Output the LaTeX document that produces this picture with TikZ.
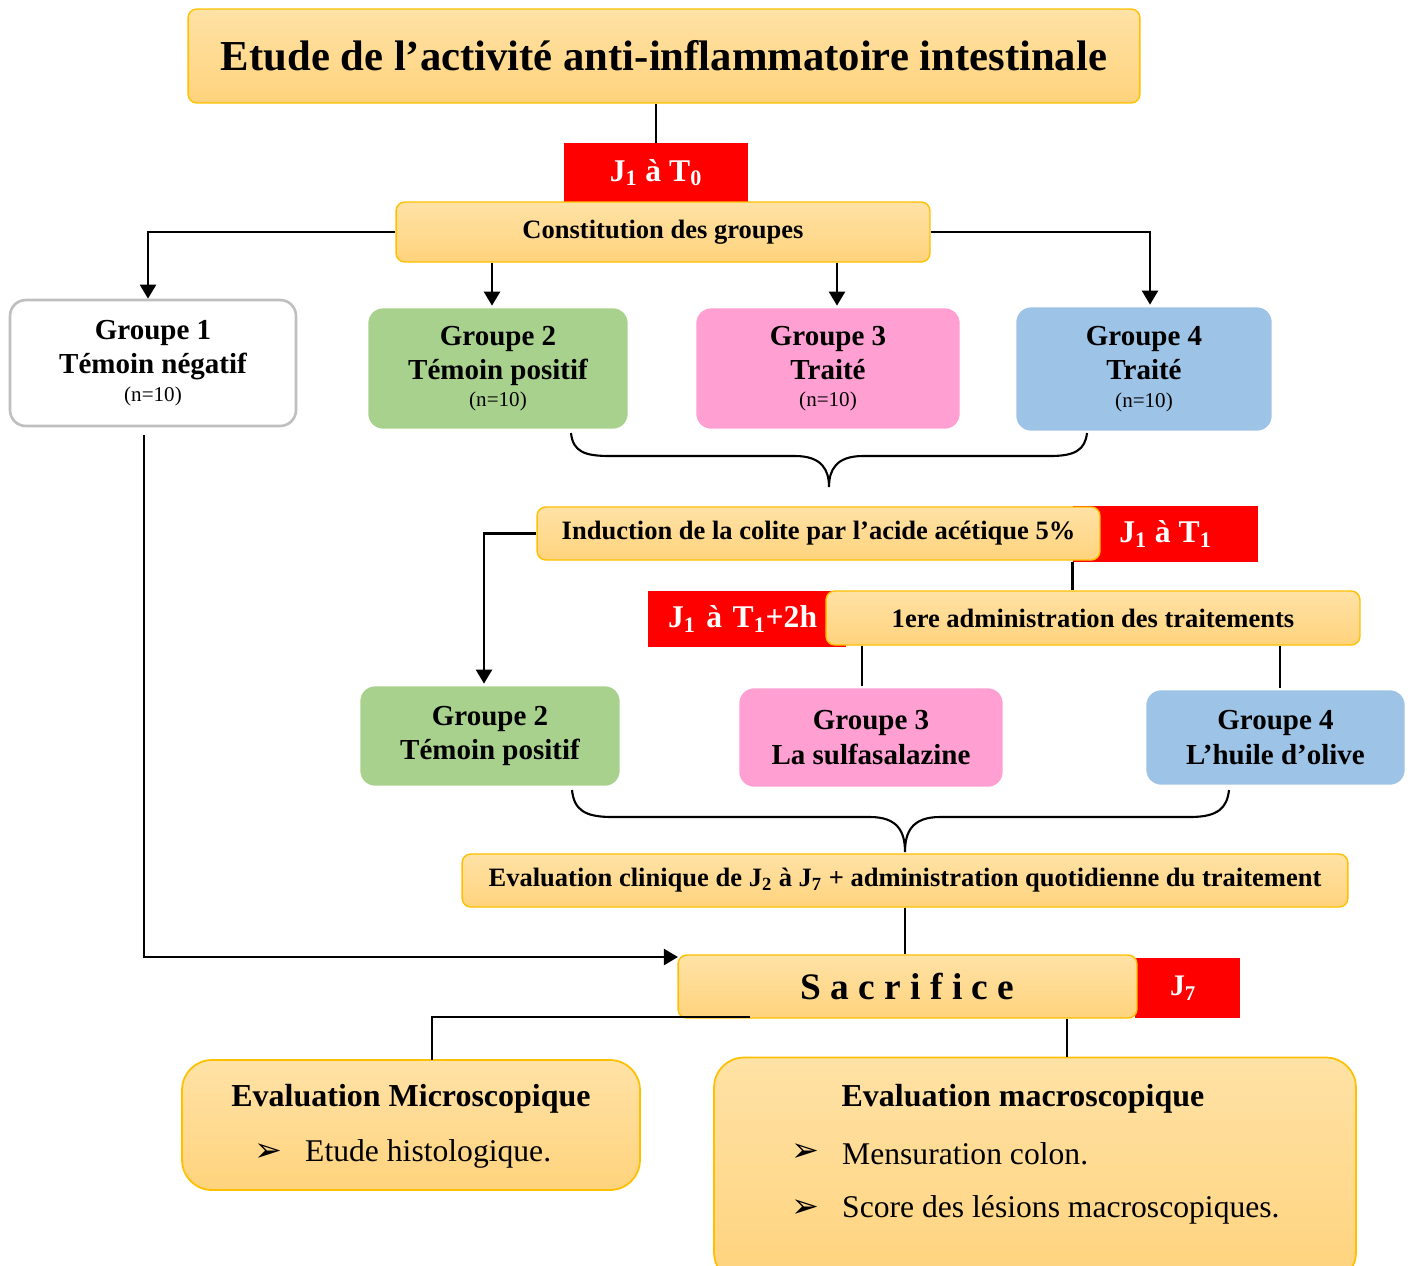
\documentclass[tikz,border=0pt]{standalone}
\usepackage{fontspec}
\setmainfont{Liberation Serif}
\newfontfamily\symfont{DejaVu Sans}
\usetikzlibrary{arrows.meta,positioning}
\definecolor{goldtop}{HTML}{FFE2A6}
\definecolor{goldbottom}{HTML}{FFD37D}
\definecolor{goldline}{HTML}{FFC000}
\definecolor{alertred}{HTML}{FF0000}
\definecolor{grpgreen}{HTML}{A9D18E}
\definecolor{grppink}{HTML}{FF9FD2}
\definecolor{grpblue}{HTML}{9DC3E6}
\definecolor{grpgray}{HTML}{BFBFBF}
\newcommand\nsmall{\mdseries\fontsize{12}{14}\selectfont}

\begin{document}
\begin{tikzpicture}[x=0.02cm, y=-0.02cm,
    boxsize/.style 2 args={minimum width=#1, minimum height=#2},
    goldbox/.style={draw=goldline, line width=0.8pt, top color=goldtop, bottom color=goldbottom,
        rounded corners=5pt, inner sep=0pt, font=\bfseries\fontsize{15.1}{18}\selectfont},
    redbox/.style={fill=alertred, text=white, inner sep=0pt, font=\bfseries\fontsize{18}{21}\selectfont},
    grpbox/.style={draw=white, line width=1.5pt, rounded corners=9pt, align=center, inner sep=0pt,
        font=\bfseries\fontsize{16.5}{19.5}\selectfont},
    evalbox/.style={goldbox, line width=1pt, rounded corners=17pt},
    evaltitle/.style={font=\bfseries\fontsize{18.2}{21}\selectfont},
    bullet/.style={font=\symfont\fontsize{19}{21}\selectfont},
    item/.style={anchor=west, font=\fontsize{18}{21}\selectfont},
    link/.style={line width=1.6pt},
    arrowlink/.style={link, -{Triangle[length=8pt,width=9pt]}},
    brace/.style={line width=1.2pt}
]
    \useasboundingbox (0,0) rectangle (1413,1265);

    % Title
    \node[goldbox, boxsize={19.04cm}{1.88cm}, font=\bfseries\fontsize{24.3}{28}\selectfont] (titre) at (664,56)
        {Etude de l’activité anti-inflammatoire intestinale};

    % J1 a T0 and groups
    \node[redbox, boxsize={3.68cm}{1.18cm}] (t0) at (656,172.5) {J\textsubscript{1} à T\textsubscript{0}};
    \node[goldbox, boxsize={10.68cm}{1.2cm}] (const) at (663,232) {Constitution des groupes};
    \draw[link] (t0.north) -- (t0.north |- titre.south);

    \node[grpbox, draw=grpgray, fill=white, boxsize={5.72cm}{2.52cm}] (g1) at (153,363)
        {Groupe 1\\Témoin négatif\\[-4pt]{\nsmall (n=10)}};
    \node[grpbox, fill=grpgreen, boxsize={5.24cm}{2.46cm}] (g2) at (498,368.5)
        {Groupe 2\\Témoin positif\\[-4pt]{\nsmall (n=10)}};
    \node[grpbox, fill=grppink, boxsize={5.32cm}{2.46cm}] (g3) at (828,368.5)
        {Groupe 3\\Traité\\[-4pt]{\nsmall (n=10)}};
    \node[grpbox, fill=grpblue, boxsize={5.16cm}{2.52cm}] (g4) at (1144,369)
        {Groupe 4\\Traité\\[-4pt]{\nsmall (n=10)}};

    \coordinate (g1in) at ([xshift=-0.1cm]g1.north);
    \coordinate (g2in) at ([xshift=-0.12cm]g2.north);
    \coordinate (g3in) at ([xshift=0.18cm]g3.north);
    \coordinate (g4in) at ([xshift=0.12cm]g4.north);
    \draw[arrowlink] (const.west) -| (g1in);
    \draw[arrowlink] (const.east) -| (g4in);
    \draw[arrowlink] (g2in |- const.south) -- (g2in);
    \draw[arrowlink] (g3in |- const.south) -- (g3in);

    % first brace
    \draw[brace] (571,433) .. controls (573,452) and (585,456) .. (610,456) -- (795,456)
        .. controls (822,456) and (829,470) .. (829,487)
        .. controls (829,470) and (836,456) .. (863,456) -- (1050,456)
        .. controls (1075,456) and (1085,450) .. (1087,433);

    % colitis induction and first treatment
    \node[redbox, boxsize={3.7cm}{1.12cm}] (t1) at (1165.5,534)
        {J\textsubscript{1} à T\textsubscript{1}};
    \node[goldbox, boxsize={11.26cm}{1.06cm}] (induc) at (818.5,533.5)
        {Induction de la colite par l’acide acétique 5\%};
    \node[redbox, boxsize={3.96cm}{1.12cm}, text width=3.16cm, align=left] (t2) at (747,619)
        {J\textsubscript{1} à T\textsubscript{1}+2h};
    \node[goldbox, boxsize={10.68cm}{1.08cm}] (adm) at (1093,618)
        {1ere administration des traitements};
    \draw[link] (t1.south west) -- (t1.south west |- adm.north);

    \node[grpbox, fill=grpgreen, boxsize={5.24cm}{2.04cm}] (lg2) at (490,736)
        {Groupe 2\\Témoin positif};
    \node[grpbox, fill=grppink, boxsize={5.32cm}{2.02cm}] (lg3) at (871,737.5)
        {Groupe 3\\La sulfasalazine};
    \node[grpbox, fill=grpblue, boxsize={5.22cm}{1.94cm}] (lg4) at (1275.5,737.5)
        {Groupe 4\\L’huile d’olive};

    \coordinate (lg2in) at ([xshift=-0.12cm]lg2.north);
    \coordinate (lg3in) at ([xshift=-0.18cm]lg3.north);
    \coordinate (lg4in) at ([xshift=0.09cm]lg4.north);
    \draw[arrowlink] (induc.west) -| (lg2in);
    \draw[link] (adm.south -| lg3in) -- (lg3in);
    \draw[link] (adm.south -| lg4in) -- (lg4in);

    % second brace
    \draw[brace] (572,790) .. controls (574,810) and (585,817) .. (612,817) -- (870,817)
        .. controls (898,817) and (905,832) .. (905,852)
        .. controls (905,832) and (912,817) .. (940,817) -- (1190,817)
        .. controls (1218,817) and (1227,808) .. (1229,790);

    % clinical evaluation and sacrifice
    \node[goldbox, boxsize={17.72cm}{1.06cm}] (clin) at (905,880.5)
        {Evaluation clinique de J\textsubscript{2} à J\textsubscript{7} + administration quotidienne du traitement};
    \node[redbox, boxsize={2.1cm}{1.2cm}, text width=0.7cm, align=left, font=\bfseries\fontsize{17}{20}\selectfont] (t7) at (1187.5,988)
        {J\textsubscript{7}};
    \node[goldbox, boxsize={9.18cm}{1.26cm}, font=\bfseries\fontsize{21.3}{25}\selectfont] (sacr) at (907.5,986.5)
        {S a c r i f i c e};
    \draw[link] (clin.south) -- (clin.south |- sacr.north);

    \coordinate (g1out) at (144,435);
    \coordinate (sacrin) at (678,957);
    \draw[arrowlink] (g1out) |- (sacrin);

    % final evaluations
    \node[evalbox, boxsize={9.16cm}{2.6cm}] (micro) at (411,1125) {};
    \node[evalbox, boxsize={12.84cm}{4.5cm}] (macro) at (1035,1170) {};
    \node[evaltitle] (microtit) at (411,1099) {Evaluation Microscopique};
    \node[bullet] (mib1) at (268,1153) {➢};
    \node[item] (mit1) at (299,1154) {Etude histologique.};
    \node[evaltitle] (macrotit) at (1023,1099) {Evaluation macroscopique};
    \node[bullet] (mab1) at (805,1153) {➢};
    \node[item] (mat1) at (836,1154) {Mensuration colon.};
    \node[bullet] (mab2) at (805,1209) {➢};
    \node[item] (mat2) at (836,1210) {Score des lésions macroscopiques.};

    \coordinate (microin) at (432,1060);
    \coordinate (sacrout) at (750,1017);
    \coordinate (macroin) at (1067,1057);
    \draw[link] (microin) |- (sacrout);
    \draw[link] (macroin) -- (macroin |- sacr.south);
\end{tikzpicture}
\end{document}
